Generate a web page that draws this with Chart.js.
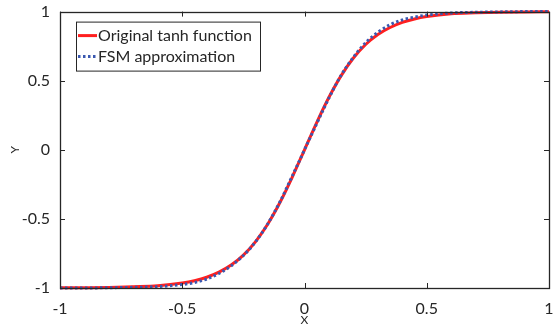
<!DOCTYPE html>
<html>
<head>
<meta charset="utf-8">
<script src="https://cdn.jsdelivr.net/npm/chart.js@4.4.1/dist/chart.umd.min.js"></script>
<style>
  html, body { margin: 0; padding: 0; background: #fff; }
  #wrap { width: 558px; height: 327px; }
</style>
</head>
<body>
<div id="wrap"><canvas id="tanhChart"></canvas></div>
<script>
// values
const xValues = [-1, -0.9, -0.8, -0.7, -0.6, -0.5, -0.45, -0.4, -0.35, -0.3, -0.25, -0.2, -0.15, -0.1, -0.05,
                 0, 0.05, 0.1, 0.15, 0.2, 0.25, 0.3, 0.35, 0.4, 0.45, 0.5, 0.6, 0.7, 0.8, 0.9, 1];
const tanhValues = [-0.999, -0.998, -0.996, -0.991, -0.984, -0.964, -0.947, -0.922, -0.885, -0.834, -0.762, -0.664, -0.537, -0.38, -0.197,
                    0, 0.197, 0.38, 0.537, 0.664, 0.762, 0.834, 0.885, 0.922, 0.947, 0.964, 0.984, 0.991, 0.996, 0.998, 0.999];
const fsmValues = [-1, -1, -0.998, -0.995, -0.99, -0.975, -0.96, -0.935, -0.895, -0.84, -0.765, -0.665, -0.535, -0.375, -0.19,
                   0, 0.19, 0.375, 0.54, 0.67, 0.775, 0.85, 0.905, 0.94, 0.96, 0.975, 0.99, 0.995, 0.998, 1, 1];
const xTicks = [-1, -0.5, 0, 0.5, 1];
const yTicks = [-1, -0.5, 0, 0.5, 1];
const seriesLabels = ['Original tanh function', 'FSM approximation'];

const RED = '#ff1f1f';
const BLUE = '#3a58b0';
const INK = '#262626';
const FONT = 'Lato, "Open Sans", sans-serif';

function toPoints(ys) {
    return xValues.map((x, i) => ({ x: x, y: ys[i] }));
}

// box around the plot with ticks pointing inward, and a legend inside
const framePlugin = {
    id: 'frame',
    afterDraw(chart) {
        const ctx = chart.ctx;
        const a = chart.chartArea;
        const xs = chart.scales.x;
        const ys = chart.scales.y;
        const len = 5;
        ctx.save();
        ctx.strokeStyle = INK;
        ctx.lineWidth = 1;
        ctx.beginPath();
        xs.ticks.forEach(t => {
            const px = Math.round(xs.getPixelForValue(t.value)) + 0.5;
            ctx.moveTo(px, a.bottom); ctx.lineTo(px, a.bottom - len);
            ctx.moveTo(px, a.top); ctx.lineTo(px, a.top + len);
        });
        ys.ticks.forEach(t => {
            const py = Math.round(ys.getPixelForValue(t.value)) + 0.5;
            ctx.moveTo(a.left, py); ctx.lineTo(a.left + len, py);
            ctx.moveTo(a.right, py); ctx.lineTo(a.right - len, py);
        });
        ctx.stroke();
        ctx.lineWidth = 1.3;
        ctx.strokeRect(Math.round(a.left) + 0.5, Math.round(a.top) + 0.5,
                       Math.round(a.right - a.left), Math.round(a.bottom - a.top));

        // legend
        const lx = a.left + 16, ly = a.top + 10, lw = 184, lh = 49;
        ctx.fillStyle = '#fff';
        ctx.fillRect(lx, ly, lw, lh);
        ctx.lineWidth = 1;
        ctx.strokeStyle = INK;
        ctx.strokeRect(lx + 0.5, ly + 0.5, lw, lh);
        ctx.font = '16px ' + FONT;
        ctx.textBaseline = 'middle';
        ctx.fillStyle = INK;
        chart.data.datasets.forEach((ds, i) => {
            const ry = ly + 14 + i * 21;
            ctx.beginPath();
            ctx.strokeStyle = ds.borderColor;
            ctx.lineWidth = ds.borderWidth;
            ctx.setLineDash(ds.borderDash || []);
            ctx.moveTo(lx + 2, ry); ctx.lineTo(lx + 21, ry);
            ctx.stroke();
            ctx.setLineDash([]);
            ctx.fillText(ds.label, lx + 22, ry);
        });
        ctx.restore();
    }
};

const ctx = document.getElementById('tanhChart').getContext('2d');
const tanhChart = new Chart(ctx, {
    type: 'line',
    data: {
        datasets: [
            {
                label: seriesLabels[0],
                data: toPoints(tanhValues),
                borderColor: RED,
                borderWidth: 3,
                pointRadius: 0,
                cubicInterpolationMode: 'monotone',
                order: 2,
                clip: 3
            },
            {
                label: seriesLabels[1],
                data: toPoints(fsmValues),
                borderColor: BLUE,
                borderWidth: 3,
                borderDash: [2.5, 2.5],
                pointRadius: 0,
                cubicInterpolationMode: 'monotone',
                order: 1,
                clip: 3
            }
        ]
    },
    options: {
        responsive: true,
        maintainAspectRatio: false,
        animation: false,
        layout: {
            padding: { top: 8, right: 9 }
        },
        plugins: {
            legend: { display: false },
            tooltip: { enabled: false }
        },
        scales: {
            x: {
                type: 'linear',
                min: -1,
                max: 1,
                afterBuildTicks: s => { s.ticks = xTicks.map(v => ({ value: v })); },
                afterFit: s => { s.height = 39; },
                grid: { display: false },
                border: { display: false },
                ticks: {
                    color: INK,
                    font: { family: FONT, size: 16 },
                    padding: 3,
                    maxRotation: 0,
                    callback: v => String(v)
                },
                title: {
                    display: true,
                    text: 'X',
                    color: INK,
                    font: { family: FONT, size: 12 },
                    padding: { top: -4, bottom: 0 }
                }
            },
            y: {
                min: -1,
                max: 1,
                afterBuildTicks: s => { s.ticks = yTicks.map(v => ({ value: v })); },
                afterFit: s => { s.width = 60; },
                grid: { display: false },
                border: { display: false },
                ticks: {
                    color: INK,
                    font: { family: FONT, size: 16 },
                    padding: 2,
                    callback: v => String(v)
                },
                title: {
                    display: true,
                    text: 'Y',
                    color: INK,
                    font: { family: FONT, size: 12 },
                    padding: { top: 8, bottom: 0 }
                }
            }
        }
    },
    plugins: [framePlugin]
});
</script>
</body>
</html>
